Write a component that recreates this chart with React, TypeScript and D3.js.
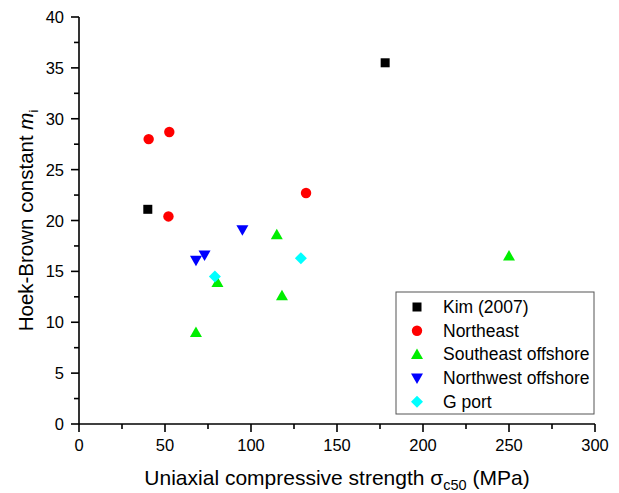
import React from "react";
import * as d3 from "d3";

const kimX = [40, 178];
const kimY = [21.1, 35.5];
const northeastX = [40.5, 52.5, 52, 132];
const northeastY = [28.0, 28.7, 20.4, 22.7];
const southeastX = [68, 80.5, 118, 115, 250];
const southeastY = [9.0, 13.9, 12.6, 18.6, 16.5];
const northwestX = [68, 73, 95];
const northwestY = [16.1, 16.6, 19.1];
const gportX = [79, 129];
const gportY = [14.5, 16.3];

const xTicks = [0, 50, 100, 150, 200, 250, 300];
const yTicks = [0, 5, 10, 15, 20, 25, 30, 35, 40];

const seriesNames = ["Kim (2007)", "Northeast", "Southeast offshore", "Northwest offshore", "G port"];
const seriesColors = ["#000000", "#ff0000", "#00ee00", "#0000ff", "#00ffff"];
const seriesShapes = ["square", "circle", "triUp", "triDown", "diamond"];

const W = 619, H = 493;
const left = 79, right = 595, top = 17, bottom = 424;
const font = "Arial, 'Liberation Sans', sans-serif";

function Marker({ shape, x, y, color }: { shape: string; x: number; y: number; color: string }) {
  if (shape === "square") return <rect x={x - 4.5} y={y - 4.5} width={9} height={9} fill={color} />;
  if (shape === "circle") return <circle cx={x} cy={y} r={5.2} fill={color} />;
  if (shape === "triUp") return <path d={`M${x},${y - 6} L${x + 6},${y + 4.5} L${x - 6},${y + 4.5} Z`} fill={color} />;
  if (shape === "triDown") return <path d={`M${x},${y + 6} L${x + 6},${y - 4.5} L${x - 6},${y - 4.5} Z`} fill={color} />;
  return <path d={`M${x},${y - 6} L${x + 6},${y} L${x},${y + 6} L${x - 6},${y} Z`} fill={color} />;
}

export default function App() {
  const xs = d3.scaleLinear().domain([0, 300]).range([left, right]);
  const ys = d3.scaleLinear().domain([0, 40]).range([bottom, top]);
  const series = [
    [kimX, kimY], [northeastX, northeastY], [southeastX, southeastY], [northwestX, northwestY], [gportX, gportY],
  ];
  const xMinor = d3.range(0, 301, 25).filter((v) => v % 50 !== 0);
  const yMinor = d3.range(0, 40.1, 2.5).filter((v) => v % 5 !== 0);
  const legX = 396, legY = 292, legW = 198, legH = 122;
  return (
    <svg width={W} height={H} style={{ position: "absolute", left: 0, top: 0, background: "#fff" }} fontFamily={font}>
      <rect width={W} height={H} fill="#fff" />
      {/* axes */}
      <line x1={left} x2={left} y1={top} y2={bottom} stroke="#000" strokeWidth={1.6} />
      <line x1={left} x2={right} y1={bottom} y2={bottom} stroke="#000" strokeWidth={1.6} />
      {xTicks.map((t) => (
        <g key={"xt" + t}>
          <line x1={xs(t)} x2={xs(t)} y1={bottom} y2={bottom + 8} stroke="#000" strokeWidth={1.6} />
          <text x={xs(t)} y={bottom + 27} fontSize={16.5} textAnchor="middle" fill="#000">{t}</text>
        </g>
      ))}
      {xMinor.map((t) => (
        <line key={"xm" + t} x1={xs(t)} x2={xs(t)} y1={bottom} y2={bottom + 5} stroke="#000" strokeWidth={1.6} />
      ))}
      {yTicks.map((t) => (
        <g key={"yt" + t}>
          <line x1={left - 8} x2={left} y1={ys(t)} y2={ys(t)} stroke="#000" strokeWidth={1.6} />
          <text x={left - 15} y={ys(t) + 6} fontSize={16.5} textAnchor="end" fill="#000">{t}</text>
        </g>
      ))}
      {yMinor.map((t) => (
        <line key={"ym" + t} x1={left - 5} x2={left} y1={ys(t)} y2={ys(t)} stroke="#000" strokeWidth={1.6} />
      ))}
      {/* titles */}
      <text x={(left + right) / 2} y={485} fontSize={21} textAnchor="middle" fill="#000">
        Uniaxial compressive strength σ<tspan fontSize={14.5} dy={5}>c50</tspan><tspan dy={-5}> (MPa)</tspan>
      </text>
      <text transform={`translate(33,${(top + bottom) / 2}) rotate(-90)`} fontSize={20.5} textAnchor="middle" fill="#000">
        Hoek-Brown constant <tspan fontStyle="italic">m</tspan><tspan fontSize={13} dy={5}>i</tspan>
      </text>
      {/* data */}
      {series.map(([sx, sy], i) =>
        sx.map((v, j) => (
          <Marker key={i + "-" + j} shape={seriesShapes[i]} x={xs(v)} y={ys(sy[j])} color={seriesColors[i]} />
        ))
      )}
      {/* legend */}
      <rect x={legX} y={legY} width={legW} height={legH} fill="#fff" stroke="#555" strokeWidth={1} />
      {seriesNames.map((n, i) => {
        const cy = legY + 15 + i * 23.7;
        return (
          <g key={n}>
            <Marker shape={seriesShapes[i]} x={417} y={cy} color={seriesColors[i]} />
            <text x={443} y={cy + 6} fontSize={17.5} fill="#000">{n}</text>
          </g>
        );
      })}
    </svg>
  );
}
